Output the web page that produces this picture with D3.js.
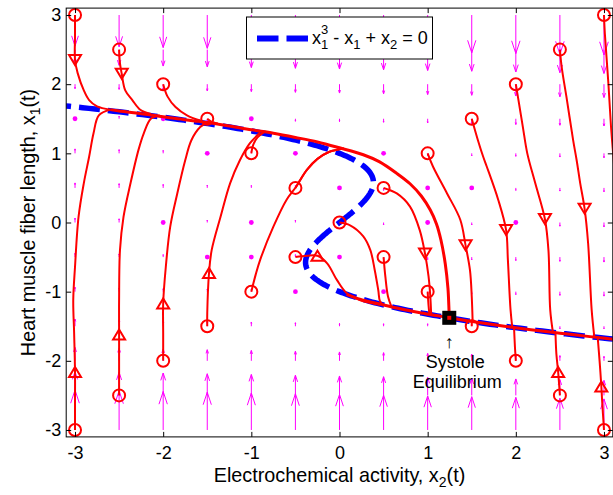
<!DOCTYPE html>
<html>
<head>
<meta charset="utf-8">
<script src="https://cdn.jsdelivr.net/npm/d3@7"></script>
<style>
  html, body { margin: 0; padding: 0; background: #fff; }
  svg { display: block; font-family: "Liberation Sans", Arial, Helvetica, sans-serif; }
</style>
</head>
<body>
<svg id="chart" width="613" height="495"></svg>
<script>
// Zeeman heartbeat model: phase portrait in the (x2, x1) plane.
// All points below are [x2, x1] pairs.

const tickValues = [-3, -2, -1, 0, 1, 2, 3];
const gridLevels = [-3, -2.5, -2, -1.5, -1, -0.5, 0, 0.5, 1, 1.5, 2, 2.5, 3];

// Grid nodes where the field glyph renders as a dot
const fieldDots = [[-3,1.5],[-2,1.5],[-1.5,1],[-1,1.5],[-0.5,1],[0,1],[0.5,1],[0,0.5],[1,0.5],[1.5,0.5],
                   [-2,0],[-1,0],[1,0],[2,0],[-1.5,-0.5],[-1,-0.5],[0,-0.5],[-0.5,-1],[0,-1],[0.5,-1]];

// Trajectories, one per initial state
const runFromM3P3   = [[-3,3],[-3,2.7],[-3,2.35],[-2.97,2.16],[-2.9,1.91],[-2.84,1.77],[-2.75,1.68],[-2.6,1.632]];
const runFromM25P25 = [[-2.5,2.5],[-2.49,2.3],[-2.47,2.15],[-2.43,1.91],[-2.35,1.77],[-2.26,1.63],[-2.14,1.57]];
const runFromM2P2   = [[-2,2],[-1.95,1.82],[-1.86,1.67],[-1.73,1.55],[-1.58,1.475]];
const runFromM15P15 = [[-1.5,1.5],[-1.45,1.455],[-1.38,1.43]];
const runFromM1P1   = [[-1,1],[-0.98,1.12],[-0.93,1.23],[-0.85,1.31]];
const runFromM05P05 = [[-0.5,0.5],[-0.37,0.76],[-0.25,0.92],[-0.12,1.02],[0.05,1.07]];
const runFromZero   = [[0,0],[0.12,-0.04],[0.27,-0.2],[0.35,-0.4],[0.4,-0.69],[0.44,-0.98],[0.46,-1.14],[0.5,-1.19]];
const runFromP05P05 = [[0.5,0.5],[0.65,0.42],[0.8,0.23],[0.91,-0.11],[0.97,-0.45],[1.01,-0.78],[1.03,-1.07],[1.04,-1.33]];
const runFromP1P1   = [[1,1],[1.06,0.81],[1.22,0.42],[1.37,0.04],[1.43,-0.33],[1.48,-0.69],[1.5,-1.07],[1.51,-1.43]];
const runFromP15P15 = [[1.5,1.5],[1.57,1.19],[1.63,0.95],[1.67,0.81],[1.8,0.33],[1.89,-0.11],[1.91,-0.54],[1.94,-1.26],[1.96,-1.52]];
const runFromP2P2   = [[2,2],[2.03,1.77],[2.08,1.38],[2.13,1.0],[2.22,0.57],[2.33,0.05],[2.37,-0.4],[2.39,-1.26],[2.42,-1.58]];
const runFromP25P25 = [[2.5,2.5],[2.52,2.25],[2.58,1.77],[2.65,1.19],[2.69,0.9],[2.73,0.57],[2.78,0.2],[2.82,-0.3],[2.86,-1.26],[2.89,-1.65]];
const runFromP3P3   = [[3,3],[3.01,2.73],[3.05,2.01],[3.08,1.38],[3.11,0.9],[3.14,0.4]];
const runFromM3M3   = [[-3,-3],[-3,-2.6],[-3,-2.16],[-3.01,-1.6],[-3.02,-1.12],[-3.0,-0.64],[-2.96,0.08],[-2.9,0.57],[-2.84,0.95],[-2.79,1.29],[-2.73,1.55],[-2.6,1.632]];
const runFromM25M25 = [[-2.5,-2.5],[-2.5,-2.0],[-2.5,-1.62],[-2.5,-1.12],[-2.49,-0.4],[-2.45,0.08],[-2.37,0.57],[-2.28,1.05],[-2.22,1.29],[-2.14,1.5],[-2.04,1.55]];
const runFromM2M2   = [[-2,-2],[-2,-1.6],[-2,-1.17],[-1.97,-0.64],[-1.92,-0.06],[-1.84,0.42],[-1.75,0.9],[-1.68,1.19],[-1.58,1.38],[-1.48,1.46]];
const runFromM15M15 = [[-1.5,-1.5],[-1.5,-1.31],[-1.48,-0.73],[-1.45,-0.4],[-1.35,0.08],[-1.24,0.57],[-1.13,0.9],[-1.02,1.14],[-0.9,1.3]];
const runFromM1M1   = [[-1,-1],[-0.95,-0.75],[-0.9,-0.54],[-0.75,-0.06],[-0.6,0.33],[-0.49,0.52],[-0.37,0.76],[-0.25,0.92],[-0.12,1.02],[0.05,1.07]];
const runFromM05M05 = [[-0.5,-0.5],[-0.37,-0.48],[-0.25,-0.48],[-0.14,-0.59],[-0.03,-0.83],[0.08,-1.02],[0.23,-1.12],[0.46,-1.19]];
const runFromP05M05 = [[0.5,-0.5],[0.52,-0.78],[0.55,-1.07],[0.59,-1.22]];
const runFromP1M1   = [[1,-1],[1.01,-1.2],[1.02,-1.33]];
const runFromP15M15 = [[1.5,-1.5],[1.5,-1.44]];
const runFromP2M2   = [[2,-2],[1.99,-1.8],[1.98,-1.53]];
const runFromP25M25 = [[2.5,-2.5],[2.48,-2.16],[2.46,-1.9],[2.45,-1.6]];
const runFromP3M3   = [[3,-3],[2.98,-2.6],[2.97,-2.37],[2.95,-2.0],[2.93,-1.68]];

// Shared slow-manifold segments the runs settle onto
const upperTrunk = [[-2.6,1.632],[-2.5,1.612],[-2.2,1.565],[-1.9,1.51],[-1.6,1.462],[-1.3,1.405],[-1.0,1.34],
                    [-0.75,1.29],[-0.5,1.23],[-0.25,1.165],[0,1.08],[0.27,0.98],[0.45,0.88],[0.65,0.71],[0.8,0.56],
                    [0.93,0.38],[1.03,0.18],[1.1,-0.02],[1.15,-0.25],[1.2,-0.6],[1.23,-0.95],[1.24,-1.2],[1.245,-1.378]];
const lowerLeft  = [[0.08,-1.04],[0.23,-1.11],[0.46,-1.18],[0.7,-1.25],[0.9,-1.3],[1.1,-1.345],[1.245,-1.378]];
const lowerRight = [[3.25,-1.71],[2.84,-1.65],[2.5,-1.6],[2.17,-1.55],[1.87,-1.5],[1.6,-1.45],[1.245,-1.378]];

// Direction markers along the runs
const downMarks = [[-3,2.35],[-2.47,2.15],[0.97,-0.45],[1.43,-0.33],[1.89,-0.11],[2.33,0.05],[2.78,0.2]];
const upMarks   = [[-3,-2.16],[-2.5,-1.62],[-2,-1.17],[-1.48,-0.73],[-0.25,-0.48],[2.48,-2.16],[2.97,-2.37]];

const equilibrium = [1.245, -1.378];

const runs = [runFromM3P3, runFromM25P25, runFromM2P2, runFromM15P15, runFromM1P1, runFromM05P05, runFromZero,
              runFromP05P05, runFromP1P1, runFromP15P15, runFromP2P2, runFromP25P25, runFromP3P3,
              runFromM3M3, runFromM25M25, runFromM2M2, runFromM15M15, runFromM1M1, runFromM05M05,
              runFromP05M05, runFromP1M1, runFromP15M15, runFromP2M2, runFromP25M25, runFromP3M3];

// Cubic nullcline  x1^3 - x1 + x2 = 0  ->  x2 = x1 - x1^3
const cubic = (x1, x2) => x1 * x1 * x1 - x1 + x2;

const svg = d3.select("#chart");
const pL = 66.2, pR = 612.8, pT = 8.1, pB = 436.9;
const x = d3.scaleLinear().domain([-3.1, 3.1]).range([pL, pR]);
const y = d3.scaleLinear().domain([-3.1, 3.1]).range([pB, pT]);

const RED = "#ff0000", MAG = "#ff00ff", BLUE = "#0000ff";

svg.append("defs").append("clipPath").attr("id", "plotClip")
  .append("rect").attr("x", pL).attr("y", pT).attr("width", pR - pL).attr("height", pB - pT);

const plot = svg.append("g").attr("clip-path", "url(#plotClip)");

// Direction field
const field = plot.append("g").attr("stroke", MAG).attr("fill", "none").attr("stroke-width", 1);
const dotKey = new Set(fieldDots.map(d => d.join(",")));
const rateScale = 0.0214; // x1 units drawn per unit of rate
gridLevels.forEach(gx2 => gridLevels.forEach(gx1 => {
  const px = x(gx2), py = y(gx1);
  if (dotKey.has(gx2 + "," + gx1)) {
    plot.append("circle").attr("cx", px).attr("cy", py).attr("r", 2.4).attr("fill", MAG);
    return;
  }
  const v = -cubic(gx1, gx2) * rateScale;
  let ty = y(gx1 + v);
  let L = ty - py;
  if (Math.abs(L) < 2.5) { L = (L >= 0 ? 2.5 : -2.5); ty = py + L; }
  const dir = Math.sign(L) || 1, len = Math.abs(L);
  const back = 0.33 * len, half = 0.109 * len;
  field.append("path").attr("d",
    `M${px},${py}L${px},${ty}M${px - half},${ty - dir * back}L${px},${ty}L${px + half},${ty - dir * back}`);
}));

// Nullcline (dashed)
const nullX1 = d3.range(1.75, -1.7501, -0.01);
const nullLine = d3.line().x(d => x(d - d * d * d)).y(d => y(d));
plot.append("path").attr("d", nullLine(nullX1))
  .attr("fill", "none").attr("stroke", BLUE).attr("stroke-width", 5.5)
  .attr("stroke-dasharray", "21,8");

// Trajectories
const runLine = d3.line().x(d => x(d[0])).y(d => y(d[1])).curve(d3.curveCatmullRom.alpha(0.5));
const runsG = plot.append("g").attr("fill", "none").attr("stroke", RED).attr("stroke-linejoin", "round");
runs.forEach(r => runsG.append("path").attr("d", runLine(r)).attr("stroke-width", 2));
[upperTrunk, lowerLeft, lowerRight].forEach(r =>
  runsG.append("path").attr("d", runLine(r)).attr("stroke-width", 3));

// Start markers
plot.append("g").selectAll("circle").data(runs.map(r => r[0])).join("circle")
  .attr("cx", d => x(d[0])).attr("cy", d => y(d[1])).attr("r", 6)
  .attr("fill", "none").attr("stroke", RED).attr("stroke-width", 2);

// Direction triangles
plot.append("g").selectAll("path").data(downMarks).join("path")
  .attr("d", d => `M${x(d[0]) - 6},${y(d[1]) - 5}L${x(d[0]) + 6},${y(d[1]) - 5}L${x(d[0])},${y(d[1]) + 5}Z`)
  .attr("fill", "none").attr("stroke", RED).attr("stroke-width", 2).attr("stroke-linejoin", "miter");
plot.append("g").selectAll("path").data(upMarks).join("path")
  .attr("d", d => `M${x(d[0]) - 6},${y(d[1]) + 5}L${x(d[0]) + 6},${y(d[1]) + 5}L${x(d[0])},${y(d[1]) - 5}Z`)
  .attr("fill", "none").attr("stroke", RED).attr("stroke-width", 2).attr("stroke-linejoin", "miter");

// Equilibrium
const ex = x(equilibrium[0]), ey = y(equilibrium[1]);
svg.append("rect").attr("x", ex - 7).attr("y", ey - 7).attr("width", 14).attr("height", 14).attr("fill", "#000");
svg.append("rect").attr("x", ex - 2).attr("y", ey - 2).attr("width", 4).attr("height", 4).attr("fill", RED);

// Annotation
const note = svg.append("g").attr("font-size", 18).attr("fill", "#000").attr("text-anchor", "middle");
note.append("text").attr("x", ex).attr("y", ey + 30).text("↑");
note.append("text").attr("x", ex + 6).attr("y", ey + 50).text("Systole");
note.append("text").attr("x", ex + 8).attr("y", ey + 70).text("Equilibrium");

// Axes with inward ticks on all four sides
const fmt = d => String(d);
const axB = svg.append("g").attr("transform", `translate(0,${pB})`)
  .call(d3.axisBottom(x).tickValues(tickValues).tickFormat(fmt).tickSizeInner(-5).tickSizeOuter(0).tickPadding(9));
const axT = svg.append("g").attr("transform", `translate(0,${pT})`)
  .call(d3.axisTop(x).tickValues(tickValues).tickFormat("").tickSizeInner(-5).tickSizeOuter(0));
const axL = svg.append("g").attr("transform", `translate(${pL},0)`)
  .call(d3.axisLeft(y).tickValues(tickValues).tickFormat(fmt).tickSizeInner(-5).tickSizeOuter(0).tickPadding(5));
const axR = svg.append("g").attr("transform", `translate(${pR},0)`)
  .call(d3.axisRight(y).tickValues(tickValues).tickFormat("").tickSizeInner(-5).tickSizeOuter(0));
[axB, axT, axL, axR].forEach(a => {
  a.select(".domain").remove();
  a.selectAll("line").attr("stroke", "#000");
  a.selectAll("text").attr("font-size", 18).attr("fill", "#000");
  a.attr("font-family", null).attr("font-size", null);
});
svg.append("rect").attr("x", pL).attr("y", pT).attr("width", pR - pL).attr("height", pB - pT)
  .attr("fill", "none").attr("stroke", "#000").attr("stroke-width", 1);

// Axis titles
const xt = svg.append("text").attr("x", (pL + pR) / 2).attr("y", 482)
  .attr("text-anchor", "middle").attr("font-size", 19.8);
xt.append("tspan").text("Electrochemical activity, x");
xt.append("tspan").attr("font-size", 14).attr("dy", 5).text("2");
xt.append("tspan").attr("dy", -5).text("(t)");

const yt = svg.append("text").attr("transform", `translate(35,${(pT + pB) / 2}) rotate(-90)`)
  .attr("text-anchor", "middle").attr("font-size", 19.8);
yt.append("tspan").text("Heart muscle fiber length, x");
yt.append("tspan").attr("font-size", 14).attr("dy", 5).text("1");
yt.append("tspan").attr("dy", -5).text("(t)");

// Legend
const lg = svg.append("g");
lg.append("rect").attr("x", 246.5).attr("y", 17).attr("width", 186).attr("height", 42)
  .attr("fill", "#fff").attr("stroke", "#000").attr("stroke-width", 1);
lg.append("line").attr("x1", 257).attr("x2", 308).attr("y1", 38.5).attr("y2", 38.5)
  .attr("stroke", BLUE).attr("stroke-width", 6).attr("stroke-dasharray", "21.5,8");
const lt = lg.append("text").attr("x", 312).attr("y", 44).attr("font-size", 18);
lt.append("tspan").text("x");
lt.append("tspan").attr("font-size", 13).attr("dy", -10).text("3");
lt.append("tspan").attr("font-size", 13).attr("dx", -7.2).attr("dy", 15).text("1");
lt.append("tspan").attr("dy", -5).text(" - x");
lt.append("tspan").attr("font-size", 13).attr("dy", 5).text("1");
lt.append("tspan").attr("dy", -5).text(" + x");
lt.append("tspan").attr("font-size", 13).attr("dy", 5).text("2");
lt.append("tspan").attr("dy", -5).text(" = 0");
</script>
</body>
</html>
